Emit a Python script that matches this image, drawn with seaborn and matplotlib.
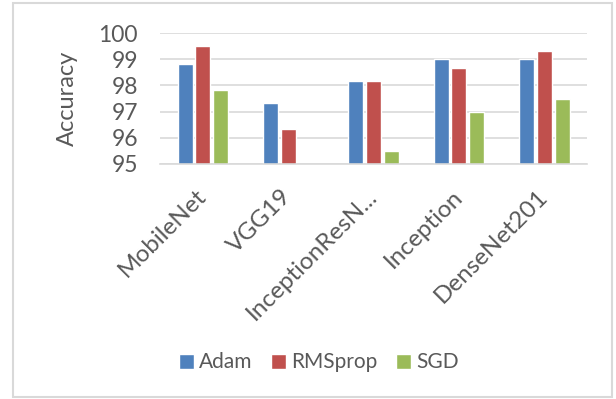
import numpy as np
import pandas as pd
import matplotlib
matplotlib.use('Agg')
import matplotlib.pyplot as plt
import seaborn as sns
from matplotlib.patches import Rectangle

models = ['MobileNet', 'VGG19', 'InceptionResN...', 'Inception', 'DenseNet201']
optimizers = ['Adam', 'RMSprop', 'SGD']
adam = [98.82, 97.33, 98.17, 99.0, 99.0]
rmsprop = [99.5, 96.34, 98.17, 98.66, 99.31]
sgd = [97.82, np.nan, 95.5, 97.0, 97.48]
colors = ['#4F81BD', '#C0504D', '#9BBB59']

df = pd.DataFrame({'Model': models * 3,
                   'Optimizer': ['Adam'] * 5 + ['RMSprop'] * 5 + ['SGD'] * 5,
                   'Accuracy': adam + rmsprop + sgd})

sns.set_theme(style='white')
plt.rcParams['font.family'] = ['Lato', 'DejaVu Sans']
txt = '#595959'

fig = plt.figure(figsize=(6.16, 3.99), dpi=100)
ax = fig.add_axes([0.26, 0.589, 0.693, 0.328])
sns.barplot(data=df, x='Model', y='Accuracy', hue='Optimizer', hue_order=optimizers,
            palette=colors, width=0.62, gap=0.15, saturation=1, ax=ax, legend=True)

ax.set_ylim(95, 100)
ax.set_xlim(-0.5, 4.5)
ax.set_yticks(range(95, 101))
ax.yaxis.grid(True, color='#D9D9D9', lw=1.2)
ax.set_axisbelow(True)
for s in ['left', 'right', 'top']:
    ax.spines[s].set_visible(False)
ax.spines['bottom'].set_color('#D9D9D9')
ax.spines['bottom'].set_linewidth(1.2)
ax.tick_params(axis='both', length=0, colors=txt)
ax.tick_params(axis='y', pad=16, labelsize=16.5)
ax.tick_params(axis='x', pad=21, labelsize=17.5)
ax.set_xlabel('')
ax.set_ylabel('Accuracy', color=txt, fontsize=17, labelpad=15)
plt.setp(ax.get_xticklabels(), rotation=45, ha='right', va='center', rotation_mode='anchor')

ax.legend(loc='center', bbox_to_anchor=(319 / 616, 1 - 362.5 / 399), bbox_transform=fig.transFigure,
          ncol=3, frameon=False, fontsize=15, handlelength=0.72, handleheight=0.72,
          handletextpad=0.24, columnspacing=0.9, labelcolor=txt)

fig.patches.append(Rectangle((13 / 616, 2 / 399), 599 / 616, 394 / 399,
                             transform=fig.transFigure, fill=False,
                             edgecolor='#D9D9D9', lw=1.5))

fig.savefig('out.png', dpi=100)
